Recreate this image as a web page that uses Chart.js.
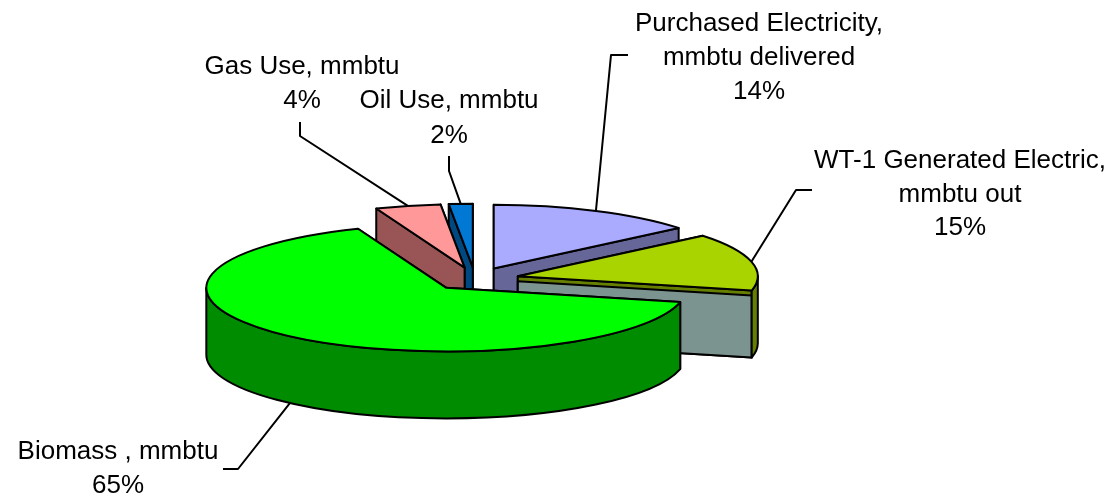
<!DOCTYPE html>
<html>
<head>
<meta charset="utf-8">
<script src="https://cdn.jsdelivr.net/npm/chart.js@4"></script>
<style>
body { margin: 0; background: #fff; }
canvas { display: block; }
</style>
</head>
<body>
<canvas id="pie3d" width="1113" height="497"></canvas>
<script>
// data
var categories = ['Purchased Electricity, mmbtu delivered', 'WT-1 Generated Electric, mmbtu out', 'Biomass , mmbtu', 'Gas Use, mmbtu', 'Oil Use, mmbtu'];
var values = [14, 14.6, 65.4, 4.4, 1.6];
var labelLines = [['Purchased Electricity,', 'mmbtu delivered'], ['WT-1 Generated Electric,', 'mmbtu out'], ['Biomass , mmbtu'], ['Gas Use, mmbtu'], ['Oil Use, mmbtu']];

// colours
var topColors = ['#AAAAFF', '#AAD400', '#00FF00', '#FF9999', '#0078D4'];
var rimColors = ['#666699', '#667F00', '#008C00', '#995555', '#004880'];
var radialColors = ['#666699', '#7C9490', '#008C00', '#995555', '#004880'];

// layout
var squash = 0.265;      // tilt of the pie
var depth = 67;          // height of the walls
var explode = 176;       // arc offset option, the element moves by a quarter of it
var pieRadius = 240;
var paintOrder = [0, 4, 3, 1, 2];   // back to front
var radialLip = [0, 5, 0, 0, 0];    // thin band above the cut face of the WT-1 slice
var labelPos = [[759, 31, 34], [960, 168, 33.5], [118, 459, 34], [302, 74, 34], [449, 108, 35]];
var leaderElbows = [[[628, 55], [611, 55]], [[812, 190], [796, 190]], [[223, 469], [238, 469]], [[300, 122], [300, 136]], [[449, 156], [449, 171]]];
var leaderOnWall = [false, false, true, false, false];

function apex(arc) {
  var mid = (arc.startAngle + arc.endAngle) / 2;
  var off = arc.options.offset / 4;
  return { x: arc.x + Math.cos(mid) * off, y: arc.y + Math.sin(mid) * off * squash };
}

function rimPoint(arc, angle) {
  var c = apex(arc);
  return { x: c.x + Math.cos(angle) * pieRadius, y: c.y + Math.sin(angle) * pieRadius * squash };
}

function radialWall(ctx, arc, angle, lip, color) {
  var c = apex(arc);
  var p = rimPoint(arc, angle);
  ctx.beginPath();
  ctx.moveTo(c.x, c.y + lip);
  ctx.lineTo(p.x, p.y + lip);
  ctx.lineTo(p.x, p.y + depth);
  ctx.lineTo(c.x, c.y + depth);
  ctx.closePath();
  ctx.fillStyle = color;
  ctx.fill();
  ctx.stroke();
}

// only the part of the rim on the near side of the pie can be seen
function rimWall(ctx, arc, color) {
  var ranges = [[0, Math.PI], [2 * Math.PI, 3 * Math.PI]];
  var c = apex(arc);
  var rx = pieRadius, ry = rx * squash;
  for (var i = 0; i < ranges.length; i++) {
    var a = Math.max(arc.trueStart, ranges[i][0]);
    var b = Math.min(arc.trueEnd, ranges[i][1]);
    if (b <= a) continue;
    ctx.beginPath();
    ctx.ellipse(c.x, c.y, rx, ry, 0, a, b);
    ctx.ellipse(c.x, c.y + depth, rx, ry, 0, b, a, true);
    ctx.closePath();
    ctx.fillStyle = color;
    ctx.fill();
    ctx.stroke();
  }
}

var pie3dPlugin = {
  id: 'pie3d',
  // an offset arc is drawn larger than outerRadius and a little narrower than its
  // angles, by amounts that depend on its sweep. Undo that so all slices line up.
  afterDatasetsUpdate: function (chart) {
    var arcs = chart.getDatasetMeta(0).data;
    for (var k = 0; k < arcs.length; k++) {
      var arc = arcs[k];
      var grow = arc.options.offset / 4 * (1 - Math.sin(Math.min(Math.PI, arc.circumference)));
      var narrow = grow / (2 * Math.PI * pieRadius);
      arc.outerRadius = pieRadius - grow;
      arc.trueStart = arc.startAngle;
      arc.trueEnd = arc.endAngle;
      arc.startAngle -= narrow;
      arc.endAngle += narrow;
    }
  },
  beforeDatasetsDraw: function (chart) {
    var ctx = chart.ctx;
    var arcs = chart.getDatasetMeta(0).data;
    ctx.save();
    ctx.lineWidth = 2;
    ctx.strokeStyle = '#000';
    ctx.lineJoin = 'round';
    for (var n = 0; n < paintOrder.length; n++) {
      var i = paintOrder[n];
      var arc = arcs[i];
      var first = arc.trueStart, second = arc.trueEnd;
      // the cut face lower on the page goes on last
      if (rimPoint(arc, first).y > rimPoint(arc, second).y) { first = arc.trueEnd; second = arc.trueStart; }
      radialWall(ctx, arc, first, 0, radialColors[i]);
      if (radialLip[i]) radialWall(ctx, arc, second, 0, rimColors[i]);
      radialWall(ctx, arc, second, radialLip[i], radialColors[i]);
      rimWall(ctx, arc, rimColors[i]);
    }
    ctx.restore();
    // the library draws the slice tops, flattened
    var cx = arcs[0].x, cy = arcs[0].y;
    ctx.save();
    ctx.translate(cx, cy);
    ctx.scale(1, squash);
    ctx.translate(-cx, -cy);
  },
  afterDatasetsDraw: function (chart) {
    var ctx = chart.ctx;
    var arcs = chart.getDatasetMeta(0).data;
    ctx.restore();
    ctx.save();
    ctx.lineWidth = 2;
    ctx.strokeStyle = '#000';
    ctx.lineJoin = 'round';
    for (var i = 0; i < arcs.length; i++) {
      var arc = arcs[i];
      var c = apex(arc);
      ctx.beginPath();
      ctx.moveTo(c.x, c.y);
      ctx.ellipse(c.x, c.y, pieRadius, pieRadius * squash, 0, arc.trueStart, arc.trueEnd);
      ctx.closePath();
      ctx.stroke();
    }
    // leader lines and labels
    var total = values.reduce(function (a, b) { return a + b; }, 0);
    ctx.font = '26px "Liberation Sans", Arial, sans-serif';
    ctx.textAlign = 'center';
    ctx.textBaseline = 'alphabetic';
    ctx.fillStyle = '#000';
    for (var i = 0; i < arcs.length; i++) {
      var arc = arcs[i];
      var end = rimPoint(arc, (arc.trueStart + arc.trueEnd) / 2);
      ctx.beginPath();
      ctx.moveTo(leaderElbows[i][0][0], leaderElbows[i][0][1]);
      ctx.lineTo(leaderElbows[i][1][0], leaderElbows[i][1][1]);
      ctx.lineTo(end.x, end.y + (leaderOnWall[i] ? depth : 0));
      ctx.stroke();
      var lines = labelLines[i].concat(Math.round(values[i] / total * 100) + '%');
      for (var j = 0; j < lines.length; j++) {
        ctx.fillText(lines[j], labelPos[i][0], labelPos[i][1] + j * labelPos[i][2]);
      }
    }
    ctx.restore();
  }
};

new Chart(document.getElementById('pie3d'), {
  type: 'pie',
  data: {
    labels: categories,
    datasets: [{
      data: values,
      backgroundColor: topColors,
      borderWidth: 0,
      offset: explode,
      radius: pieRadius,
      clip: false
    }]
  },
  options: {
    responsive: false,
    animation: false,
    layout: { padding: { top: 61, right: 163 } },
    plugins: { legend: { display: false }, tooltip: { enabled: false } }
  },
  plugins: [pie3dPlugin]
});
</script>
</body>
</html>
